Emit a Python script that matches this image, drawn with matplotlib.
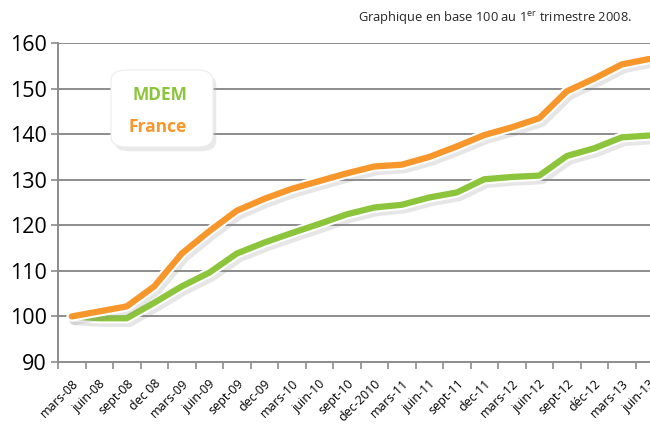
import matplotlib.pyplot as plt
import matplotlib.patheffects as pe
from matplotlib.patches import FancyBboxPatch
import numpy as np

plt.rcParams['font.family'] = ['Open Sans', 'DejaVu Sans']
plt.rcParams['mathtext.default'] = 'regular'

periods = ["mars-08", "juin-08", "sept-08", "dec 08", "mars-09", "juin-09",
           "sept-09", "dec-09", "mars-10", "juin-10", "sept-10", "dec-2010",
           "mars-11", "juin-11", "sept-11", "dec-11", "mars-12", "juin-12",
           "sept-12", "déc-12", "mars-13", "juin-13"]
mdem = [100, 99.6, 99.6, 103.0, 106.6, 109.6, 113.8, 116.2, 118.3, 120.3, 122.4,
        123.9, 124.5, 126.1, 127.2, 130.1, 130.6, 130.9, 135.2, 136.9, 139.3, 139.7]
france = [100, 101.1, 102.2, 106.6, 113.8, 118.7, 123.2, 125.8, 128.0, 129.7, 131.4,
          132.9, 133.3, 135.0, 137.3, 139.8, 141.5, 143.5, 149.4, 152.2, 155.3, 156.5]
yticks = [90, 100, 110, 120, 130, 140, 150, 160]

green = "#8cc43c"
orange = "#f7962b"
grid_col = "#8c8c8c"

fig = plt.figure(figsize=(6.5, 4.32), dpi=100)
ax = fig.add_axes([58 / 650, 70 / 432, 1 - 58 / 650, (362 - 43) / 432])

x = np.arange(len(periods))

def line_fx(lw):
    return [pe.SimpleLineShadow(offset=(2, -2.5), shadow_color="#909090", alpha=0.22, linewidth=lw + 3),
            pe.Stroke(linewidth=lw + 3, foreground="white"),
            pe.Normal()]

lw = 4.5
ax.plot(x, mdem, color=green, lw=lw, solid_capstyle="round", solid_joinstyle="round",
        path_effects=line_fx(lw), zorder=3)
ax.plot(x, france, color=orange, lw=lw, solid_capstyle="round", solid_joinstyle="round",
        path_effects=line_fx(lw), zorder=4)

ax.set_yticks(yticks)
ax.set_yticklabels([str(v) for v in yticks], fontsize=15.5)
for v in yticks[1:]:
    ax.axhline(v, color=grid_col, lw=1.4, zorder=1)

ax.set_xticks(x)
ax.set_xticklabels(periods, rotation=45, ha="right", rotation_mode="anchor", fontsize=9)
ax.set_xticks(np.arange(-0.5, len(periods), 1), minor=True)
ax.tick_params(axis="x", which="major", length=0, pad=11)
ax.tick_params(axis="x", which="minor", length=5, color=grid_col, width=1.2)
ax.tick_params(axis="y", length=5, color=grid_col, width=1.2, pad=3)
# limits after ticks, so the minor ticks don't widen the view
ax.set_ylim(90, 160)
ax.set_xlim(-0.5, -0.5 + (650 - 58) / 27.5)

for s in ["top", "right"]:
    ax.spines[s].set_visible(False)
ax.spines["left"].set_color(grid_col)
ax.spines["bottom"].set_color(grid_col)
ax.spines["left"].set_linewidth(1.4)
ax.spines["bottom"].set_linewidth(1.4)

# legend box
bx0, by0, bw, bh = 111 / 650, 1 - 147 / 432, 102 / 650, 77 / 432
shadow = FancyBboxPatch((bx0 + 0.005, by0 - 0.01), bw, bh, boxstyle="round,pad=0,rounding_size=0.025",
                        transform=fig.transFigure, facecolor="#b8b8b8", edgecolor="none", alpha=0.3, zorder=5)
box = FancyBboxPatch((bx0, by0), bw, bh, boxstyle="round,pad=0,rounding_size=0.025",
                     transform=fig.transFigure, facecolor="white", edgecolor="#ececec", lw=0.8, zorder=6)
fig.patches.extend([shadow, box])
fig.text(160 / 650, 1 - 95 / 432, "MDEM", color=green, fontsize=12.5, fontweight="bold",
         ha="center", va="center", zorder=7)
fig.text(158 / 650, 1 - 127 / 432, "France", color=orange, fontsize=12.5, fontweight="bold",
         ha="center", va="center", zorder=7)

fig.text(632 / 650, 1 - 17 / 432, "Graphique en base 100 au 1$^{er}$ trimestre 2008.",
         ha="right", va="center", fontsize=9.3, color="#262626")

fig.savefig("out.png", dpi=100)
